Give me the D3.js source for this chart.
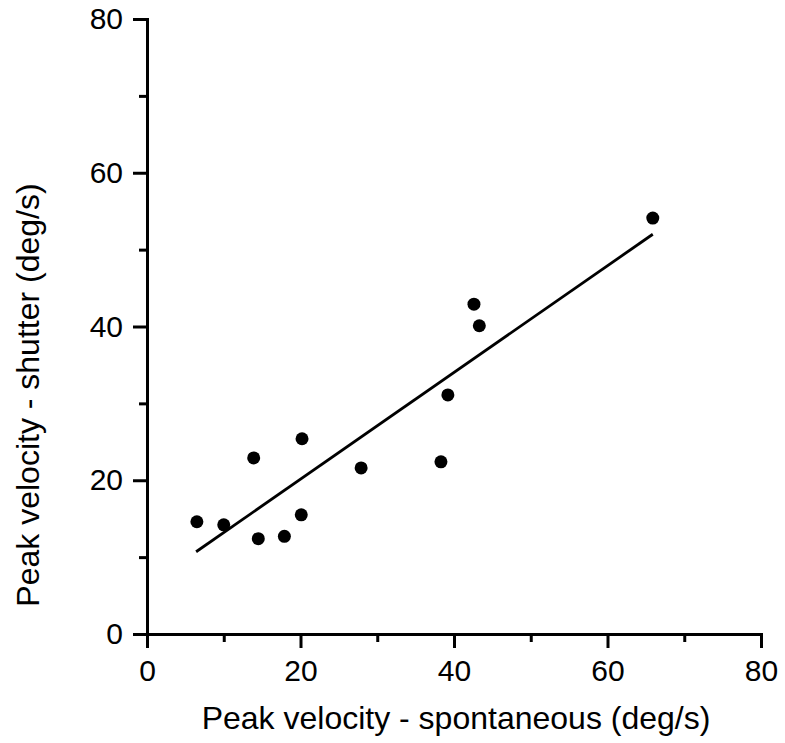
<!DOCTYPE html>
<html>
<head>
<meta charset="utf-8">
<script src="https://cdn.jsdelivr.net/npm/d3@7"></script>
<style>
  body { margin: 0; background: #fff; }
  svg { display: block; }
</style>
</head>
<body>
<div id="chart"></div>
<script>
// peak velocities (deg/s)
const spontaneous = [6.5, 10.0, 13.9, 14.5, 17.9, 20.2, 20.1, 27.9, 38.3, 39.2, 42.6, 43.3, 65.9];
const shutter     = [14.6, 14.2, 22.9, 12.4, 12.7, 25.4, 15.5, 21.6, 22.4, 31.1, 42.9, 40.1, 54.1];
// fitted line end points
const fitX = [6.4, 65.9];
const fitY = [10.7, 52.0];
const majorTicks = [0, 20, 40, 60, 80];
const minorTicks = [10, 30, 50, 70];

const width = 785, height = 743;
const margin = {top: 19, right: 24, bottom: 109, left: 147};

const svg = d3.select("#chart")
    .append("svg")
    .attr("width", width)
    .attr("height", height);

const x = d3.scaleLinear()
    .domain([0, 80])
    .range([margin.left, width - margin.right]);
const y = d3.scaleLinear()
    .domain([0, 80])
    .range([height - margin.bottom, margin.top]);

const font = "'Liberation Sans', Arial, Helvetica, sans-serif";

function styleAxis(g) {
    g.select(".domain").attr("stroke", "#000").attr("stroke-width", 3);
    g.selectAll(".tick line").attr("stroke", "#000").attr("stroke-width", 3);
    g.selectAll(".tick text")
        .attr("font-family", font)
        .attr("font-size", "30px")
        .attr("fill", "#000");
}

// minor ticks first so the major axis sits on top
svg.append("g")
    .attr("transform", `translate(0,${y(0)})`)
    .call(d3.axisBottom(x).tickValues(minorTicks).tickSize(8).tickFormat(""))
    .call(styleAxis);
svg.append("g")
    .attr("transform", `translate(${x(0)},0)`)
    .call(d3.axisLeft(y).tickValues(minorTicks).tickSize(8).tickFormat(""))
    .call(styleAxis);

svg.append("g")
    .attr("transform", `translate(0,${y(0)})`)
    .call(d3.axisBottom(x).tickValues(majorTicks).tickSize(14).tickSizeOuter(0).tickPadding(12))
    .call(styleAxis);
svg.append("g")
    .attr("transform", `translate(${x(0)},0)`)
    .call(d3.axisLeft(y).tickValues(majorTicks).tickSize(14).tickSizeOuter(0).tickPadding(10))
    .call(styleAxis);

// regression line
svg.append("path")
    .datum(d3.zip(fitX, fitY))
    .attr("fill", "none")
    .attr("stroke", "#000")
    .attr("stroke-width", 2.8)
    .attr("d", d3.line().x(d => x(d[0])).y(d => y(d[1])));

// data points
svg.selectAll("circle.pt")
    .data(d3.zip(spontaneous, shutter))
    .enter()
    .append("circle")
    .attr("class", "pt")
    .attr("cx", d => x(d[0]))
    .attr("cy", d => y(d[1]))
    .attr("r", 6.5)
    .attr("fill", "#000");

svg.append("text")
    .attr("x", 456)
    .attr("y", 729)
    .attr("text-anchor", "middle")
    .attr("font-family", font)
    .attr("font-size", "32px")
    .text("Peak velocity - spontaneous (deg/s)");

svg.append("text")
    .attr("transform", "rotate(-90)")
    .attr("x", -395)
    .attr("y", 39)
    .attr("text-anchor", "middle")
    .attr("font-family", font)
    .attr("font-size", "32px")
    .text("Peak velocity - shutter (deg/s)");
</script>
</body>
</html>
